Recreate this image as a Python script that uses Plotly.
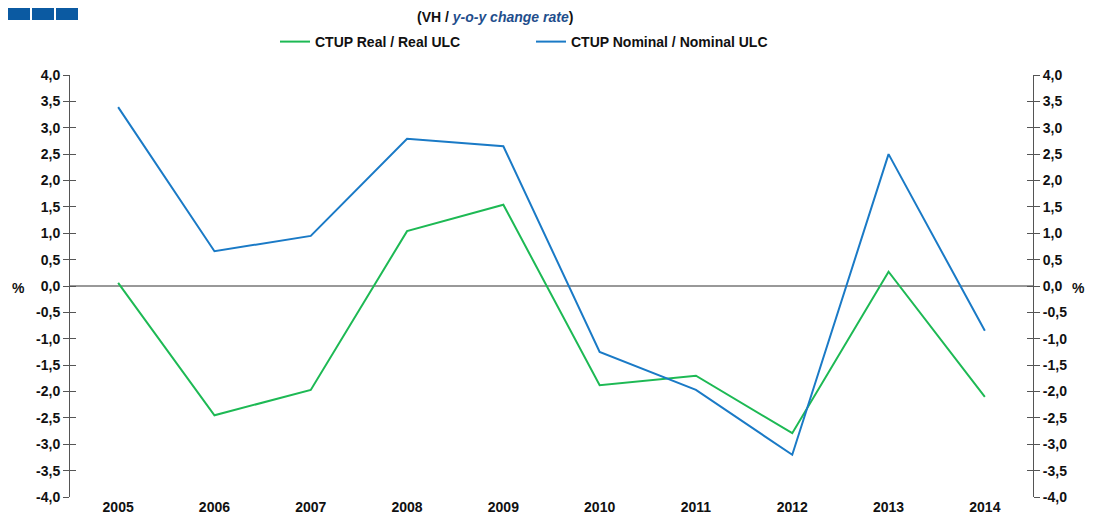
import plotly.graph_objects as go

years = ["2005", "2006", "2007", "2008", "2009", "2010", "2011", "2012", "2013", "2014"]
real_vals = [0.06, -2.45, -1.97, 1.04, 1.54, -1.88, -1.70, -2.79, 0.27, -2.10]
nominal_vals = [3.39, 0.66, 0.95, 2.79, 2.65, -1.25, -1.97, -3.20, 2.50, -0.85]
y_ticks = [-4.0, -3.5, -3.0, -2.5, -2.0, -1.5, -1.0, -0.5, 0.0, 0.5, 1.0, 1.5, 2.0, 2.5, 3.0, 3.5, 4.0]
y_tick_text = [f"{v:.1f}".replace(".", ",") for v in y_ticks]

# page body has an 8px margin: work in page pixels, shift into figure pixels
OFF = 8
W, H = 1093 - OFF, 521 - OFF
L, T = 70 - OFF, 75 - OFF
pw, ph = 963, 422
R, B = W - L - pw, H - T - ph

def px(x):
    return (x - OFF - L) / pw

def py(y):
    return (T + ph - (y - OFF)) / ph

FAM = "Liberation Sans, Arial, sans-serif"
bold = dict(family=FAM, size=14, color="#111111", weight="bold")

fig = go.Figure()
fig.add_trace(go.Scatter(x=years, y=real_vals, mode="lines", name="CTUP Real / Real ULC",
                         line=dict(color="#1db954", width=2)))
fig.add_trace(go.Scatter(x=years, y=nominal_vals, mode="lines", name="CTUP Nominal / Nominal ULC",
                         line=dict(color="#1a7ac6", width=2)))

yax = dict(range=[-4, 4], tickvals=y_ticks, ticktext=y_tick_text, showgrid=False,
           showline=True, linecolor="#555555", linewidth=1, ticks="outside", ticklen=6,
           tickcolor="#555555", tickfont=bold, zeroline=False, automargin=False)

fig.update_layout(
    width=W, height=H,
    margin=dict(l=L, r=R, t=T, b=B, autoexpand=False),
    paper_bgcolor="white", plot_bgcolor="white",
    font=dict(family=FAM, size=12, color="#111111"),
    showlegend=True,
    legend=dict(orientation="h", x=px(275), y=py(42), xanchor="left", yanchor="middle",
                font=bold, entrywidth=211, entrywidthmode="pixels", itemwidth=30,
                bgcolor="rgba(0,0,0,0)"),
    xaxis=dict(type="category", range=[-0.5, 9.5], showgrid=False, showline=False,
               zeroline=False, ticks="", tickfont=bold, automargin=False,
               anchor="free", position=0),
    yaxis=dict(**yax, side="left"),
    yaxis2=dict(**yax, side="right", overlaying="y", anchor="x"),
    yaxis3=dict(range=[-4, 4], tickvals=y_ticks, showticklabels=False, ticks="inside", ticklen=6,
                tickcolor="#555555", showgrid=False, zeroline=False, showline=False,
                overlaying="y", side="left", anchor="x", automargin=False),
    yaxis4=dict(range=[-4, 4], tickvals=y_ticks, showticklabels=False, ticks="inside", ticklen=6,
                tickcolor="#555555", showgrid=False, zeroline=False, showline=False,
                overlaying="y", side="right", anchor="x", automargin=False),
)

# invisible traces to activate the extra axes
for ya in ["y2", "y3", "y4"]:
    fig.add_trace(go.Scatter(x=years, y=real_vals, yaxis=ya, mode="lines",
                             line=dict(color="rgba(0,0,0,0)"), showlegend=False, hoverinfo="skip"))

# zero line across the plot
fig.add_shape(type="line", xref="paper", yref="y", x0=0, x1=1, y0=0, y1=0,
              line=dict(color="#333333", width=1), layer="below")

# decorative squares top-left
for i in range(3):
    x0 = 8 + i * 24
    fig.add_shape(type="rect", xref="paper", yref="paper",
                  x0=px(x0), x1=px(x0 + 22), y0=py(20), y1=py(6),
                  line=dict(width=0), fillcolor="#0b5aa2")

fig.add_annotation(xref="paper", yref="paper", x=px(495), y=py(17), showarrow=False,
                   xanchor="center", yanchor="middle",
                   text="(VH / <i><span style='color:#1f4e8c'>y-o-y change rate</span></i>)",
                   font=dict(family=FAM, size=14, color="#111111", weight="bold"))
fig.add_annotation(xref="paper", yref="paper", x=px(18), y=py(288), showarrow=False,
                   xanchor="center", yanchor="middle", text="%", font=bold)
fig.add_annotation(xref="paper", yref="paper", x=px(1078), y=py(288), showarrow=False,
                   xanchor="center", yanchor="middle", text="%", font=bold)

fig.write_html("out.html")
